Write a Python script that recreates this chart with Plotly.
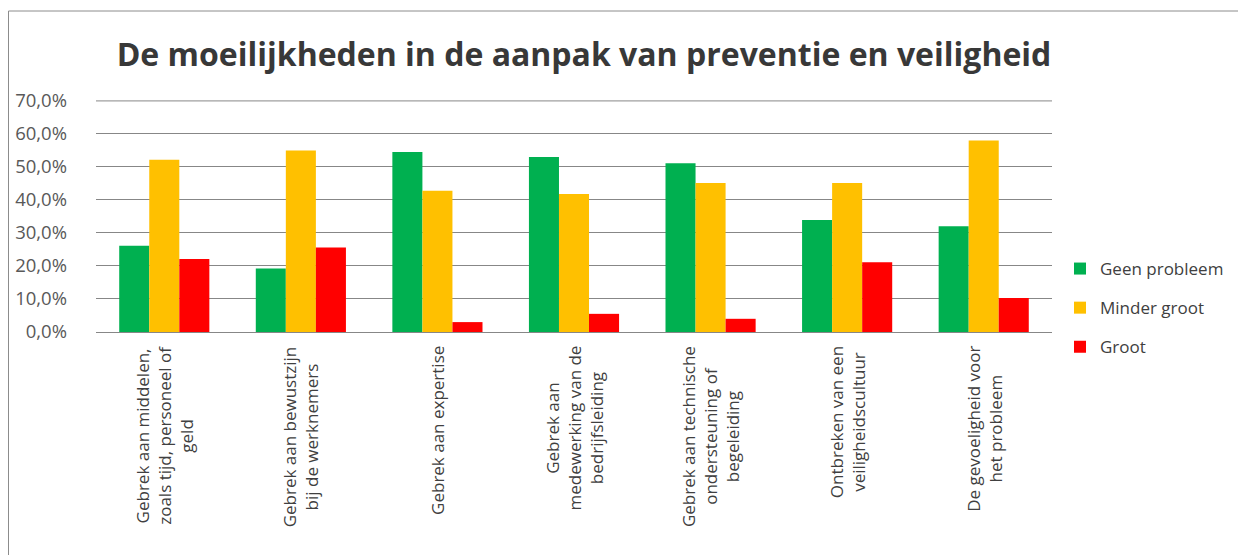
import plotly.graph_objects as go

categories = [
    "Gebrek aan middelen,<br>zoals tijd, personeel of<br>geld",
    "Gebrek aan bewustzijn<br>bij de werknemers",
    "Gebrek aan expertise",
    "Gebrek aan<br>medewerking van de<br>bedrijfsleiding",
    "Gebrek aan technische<br>ondersteuning of<br>begeleiding",
    "Ontbreken van een<br>veiligheidscultuur",
    "De gevoeligheid voor<br>het probleem",
]
geen_probleem = [0.261, 0.192, 0.545, 0.530, 0.511, 0.339, 0.320]
minder_groot = [0.522, 0.550, 0.428, 0.418, 0.451, 0.451, 0.580]
groot = [0.221, 0.256, 0.030, 0.055, 0.040, 0.211, 0.103]

series_names = ["Geen probleem", "Minder groot", "Groot"]
series_values = [geen_probleem, minder_groot, groot]
colors = ["#00B050", "#FFC000", "#FF0000"]

Y_MAX = 0.7

# page body has an 8px margin: work in screen pixels and subtract it
SW, SH, OFF = 1246, 555, 8
W, H = SW - OFF, SH - OFF
PL, PR, PT, PB = 96, 1052, 100, 332  # plot area in screen pixels
ML, MR, MT, MB = PL - OFF, W - (PR - OFF), PT - OFF, H - (PB - OFF)

fig = go.Figure()
for name, vals, col in zip(series_names, series_values, colors):
    fig.add_trace(go.Bar(
        x=list(range(len(categories))), y=vals, name=name,
        marker=dict(color=col, line=dict(width=0)),
        legendgroup=name,
    ))

pw = PR - PL
ph = PB - PT

def px_x(p):
    return (p - PL) / pw

def px_y(p):
    return (PB - p) / ph

annotations = []
for i, c in enumerate(categories):
    annotations.append(dict(
        x=i, xref="x", y=0, yref="paper", yanchor="top", xanchor="center",
        yshift=-12, text=c, textangle=-90, showarrow=False, align="center",
        font=dict(family="Open Sans", size=17, color="#404040"),
    ))

fig.update_layout(
    width=W, height=H,
    margin=dict(l=ML, r=MR, t=MT, b=MB, pad=0, autoexpand=False),
    paper_bgcolor="white", plot_bgcolor="white",
    separators=",.",
    title=dict(
        text="<b>De moeilijkheden in de aanpak van preventie en veiligheid</b>",
        x=(584 - OFF) / W, xanchor="center", y=1 - (55 - OFF) / H, yanchor="middle",
        font=dict(family="Open Sans", size=32, color="#383838"),
    ),
    barmode="group", bargap=0.34, bargroupgap=0,
    showlegend=True,
    legend=dict(
        x=px_x(1060), xanchor="left", y=px_y(251), yanchor="top",
        font=dict(family="Open Sans", size=17, color="#404040"),
        traceorder="grouped", tracegroupgap=14,
        itemwidth=30, bgcolor="rgba(0,0,0,0)",
    ),
    xaxis=dict(
        range=[-0.5, len(categories) - 0.5], showticklabels=False,
        showgrid=False, zeroline=False, showline=False, ticks="",
        automargin=False,
    ),
    yaxis=dict(
        range=[0, Y_MAX * 1.004], dtick=0.1, tick0=0, tickformat=".1%",
        showgrid=True, gridcolor="#878787", gridwidth=1,
        zeroline=True, zerolinecolor="#878787", zerolinewidth=1,
        showline=False, ticks="", ticklabelstandoff=28, automargin=False,
        tickfont=dict(family="Open Sans", size=18.5, color="#595959"),
    ),
    annotations=annotations,
    shapes=[
        dict(
            type="rect", xref="paper", yref="paper",
            x0=px_x(8.5), x1=px_x(1240), y0=px_y(570), y1=px_y(11),
            line=dict(color="#8C8C8C", width=1), fillcolor="rgba(0,0,0,0)",
            layer="below",
        ),
        dict(
            type="line", xref="paper", yref="y", x0=0, x1=1, y0=Y_MAX, y1=Y_MAX,
            line=dict(color="#878787", width=1), layer="below",
        ),
    ],
)

fig.write_html("out.html")
